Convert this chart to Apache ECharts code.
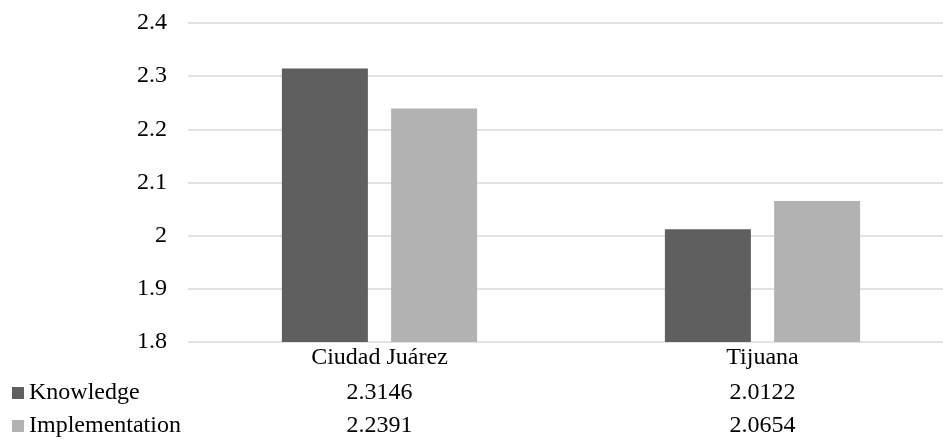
<!DOCTYPE html>
<html>
<head>
<meta charset="utf-8">
<script src="https://cdn.jsdelivr.net/npm/echarts@6/dist/echarts.min.js"></script>
<style>
  html, body { margin: 0; padding: 0; background: #fff; }
  #chart { width: 943px; height: 440px; }
</style>
</head>
<body>
<div id="chart"></div>
<script>
// Mean scores per city
const categories = ['Ciudad Juárez', 'Tijuana'];
const seriesNames = ['Knowledge', 'Implementation'];
const knowledge = [2.3146, 2.0122];
const implementation = [2.2391, 2.0654];
const yMin = 1.8, yMax = 2.4, yStep = 0.1;

const FONT = '"Liberation Serif", "Times New Roman", serif';
const FS = 24;
const colors = ['#5f5f5f', '#b2b2b2'];

// Hidden category axis that only prints a table row of values
function tableRow(values, offset) {
  return {
    type: 'category',
    data: values.map(v => String(v)),
    position: 'bottom',
    offset: offset,
    axisLine: { show: false },
    axisTick: { show: false },
    axisLabel: { color: '#000', fontFamily: FONT, fontSize: FS, margin: 4 },
    splitLine: { show: false }
  };
}

// One legend entry per table row, sitting at the row's left edge
function rowLegend(name, top) {
  return {
    data: [name],
    left: 12,
    top: top,
    itemWidth: 12,
    itemHeight: 12,
    icon: 'rect',
    padding: 0,
    textStyle: { color: '#000', fontFamily: FONT, fontSize: FS },
    selectedMode: false
  };
}

const chart = echarts.init(document.getElementById('chart'), null, { renderer: 'canvas' });
chart.setOption({
  animation: false,
  backgroundColor: '#fff',
  color: colors,
  textStyle: { fontFamily: FONT },
  grid: {
    left: 188, top: 23, width: 766, height: 319,
    containLabel: false, outerBoundsMode: 'none'
  },
  legend: [rowLegend(seriesNames[0], 381), rowLegend(seriesNames[1], 414)],
  xAxis: [
    {
      type: 'category',
      data: categories,
      axisLine: { show: false },
      axisTick: { show: false },
      axisLabel: { color: '#000', fontFamily: FONT, fontSize: FS, margin: 4 }
    },
    tableRow(knowledge, 35),
    tableRow(implementation, 68)
  ],
  yAxis: {
    type: 'value',
    min: yMin,
    max: yMax,
    interval: yStep,
    axisLine: { show: false },
    axisTick: { show: false },
    axisLabel: {
      color: '#000', fontFamily: FONT, fontSize: FS, margin: 21,
      formatter: v => String(Math.round(v * 10) / 10)
    },
    splitLine: { lineStyle: { color: '#d9d9d9', width: 1.5 } }
  },
  series: [
    {
      name: seriesNames[0], type: 'bar', data: knowledge,
      barWidth: 86, barGap: '27%',
      itemStyle: { color: colors[0] }
    },
    {
      name: seriesNames[1], type: 'bar', data: implementation,
      barWidth: 86, barGap: '27%',
      itemStyle: { color: colors[1] }
    }
  ]
});
</script>
</body>
</html>
